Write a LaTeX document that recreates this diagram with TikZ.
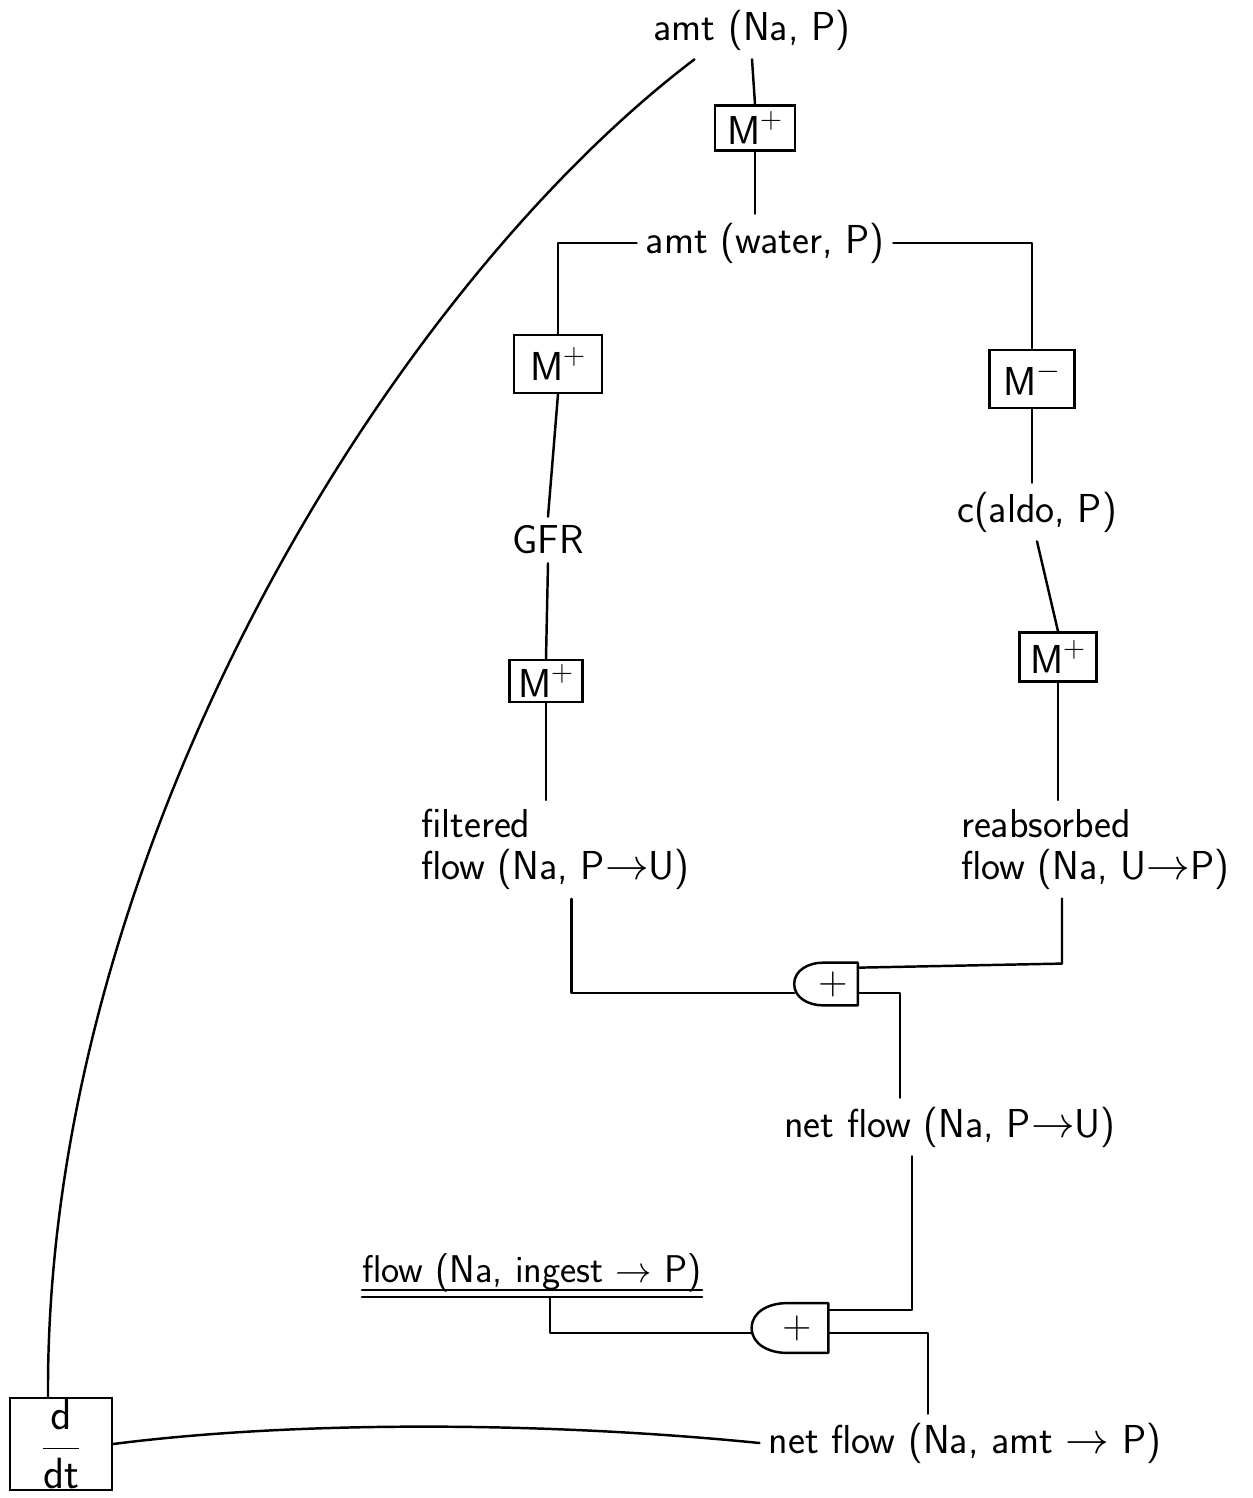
\documentclass[tikz,border=0pt]{standalone}
\usetikzlibrary{calc}
\begin{document}
\begin{tikzpicture}[x=0.02cm,y=-0.02cm,
  line/.style={line width=1.4pt,line join=round,line cap=round},
  every node/.style={font=\fontsize{23}{24}\selectfont\sffamily},
  lbl/.style={inner sep=5pt},
  mbox/.style={draw,line width=1.4pt,inner sep=0pt},
  gate/.style={inner sep=0pt,minimum width=#1},
]
\useasboundingbox (0,0) rectangle (1252,1498);

% text nodes
\node[lbl] (amtNa) at (752,30) {amt (Na, P)};
\node[lbl] (amtW) at (765,243) {amt (water, P)};
\node[lbl] (gfr) at (548,540) {GFR};
\node[lbl] (cald) at (1037,512) {c(aldo, P)};
\node[lbl,align=left,anchor=north west] (filt) at (412,800) {filtered\\flow (Na, P$\to$U)};
\node[lbl,align=left,anchor=north west] (reab) at (952,800) {reabsorbed\\flow (Na, U$\to$P)};
\node[lbl] (net1) at (950,1127) {net flow (Na, P$\to$U)};
\node[inner sep=0pt,anchor=base,font=\fontsize{22}{24}\selectfont\sffamily] (ing) at (532,1282) {flow (Na, ingest $\to$ P)};
\node[lbl] (net2) at (965,1443) {net flow (Na, amt $\to$ P)};

% M boxes
\node[mbox,minimum width=1.6cm,minimum height=0.9cm] (m1) at (755,128) {M$^{+}$};
\node[mbox,minimum width=1.76cm,minimum height=1.16cm] (m2) at (558,364) {M$^{+}$};
\node[mbox,minimum width=1.46cm,minimum height=0.84cm] (m4) at (546,681) {M$^{+}$};
\node[mbox,minimum width=1.7cm,minimum height=1.16cm] (mneg) at (1032,379) {M$^{-}$};
\node[mbox,minimum width=1.54cm,minimum height=0.98cm] (m5) at (1058,657) {M$^{+}$};
\node[mbox,minimum width=2.04cm,minimum height=1.84cm] (ddt) at (61,1444) {$\displaystyle\frac{\mathsf{d}}{\mathsf{dt}}$};

% gates
\node[gate=1.26cm,minimum height=0.84cm] (g1) at (826,984) {\hspace{8pt}+};
\node[gate=1.52cm,minimum height=0.98cm] (g2) at (790,1328) {\hspace{8pt}+};
\foreach \g in {g1,g2}{
  \draw[line] (\g.north east) -- ($(\g.north east)!0.55!(\g.north west)$)
    to[out=180,in=90] (\g.west) to[out=-90,in=180]
    ($(\g.south east)!0.55!(\g.south west)$) -- (\g.south east) -- cycle;
}
\coordinate (g1inL) at ($(g1.west)+(0,9)$);
\coordinate (g1inT) at ($(g1.north east)+(0,5)$);
\coordinate (g1out) at ($(g1.east)+(0,9)$);
\coordinate (g2inL) at ($(g2.west)+(0,5)$);
\coordinate (g2inT) at ($(g2.north east)+(0,7)$);
\coordinate (g2out) at ($(g2.east)+(0,5)$);

% connectors
\draw[line] (amtNa.south) -- (m1.north);
\draw[line] (m1.south) -- (m1.south |- amtW.north);
\draw[line] (amtW.west) -| (m2.north);
\draw[line] (amtW.east) -| (mneg.north);
\draw[line] (m2.south) -- (gfr.north);
\draw[line] (gfr.south) -- (m4.north);
\draw[line] (m4.south) -- (m4.south |- filt.north);
\draw[line] (mneg.south) -- (mneg.south |- cald.north);
\draw[line] (cald.south) -- (m5.north);
\draw[line] (m5.south) -- (m5.south |- reab.north);
\draw[line] ($(filt.south)+(16,0)$) |- (g1inL);
\draw[line] ($(m5.south |- reab.south)+(4,0)$) -- ++(0,65) -- (g1inT);
\draw[line] (g1out) -| ($(net1.north)+(-50,0)$);
\draw[line] ($(net1.south)+(-38,0)$) |- (g2inT);
\draw[line] ($(ing.base west)+(0,8)$) -- ($(ing.base east)+(0,8)$);
\draw[line] ($(ing.base west)+(0,15)$) -- ($(ing.base east)+(0,15)$);
\draw[line] ($(ing.base)+(18,15)$) |- (g2inL);
\draw[line] (g2out) -| ($(net2.north)+(-37,0)$);
\draw[line] (net2.west) .. controls (550,1422) and (300,1420) .. (ddt.east);
\draw[line] ($(ddt.north)+(-13,0)$) .. controls (45,850) and (390,290) .. ($(amtNa.south west)+(50,0)$);
\end{tikzpicture}
\end{document}
